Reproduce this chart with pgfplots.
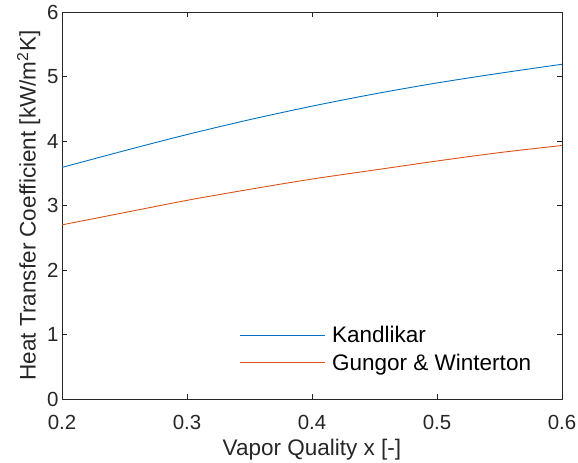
\documentclass[border=0pt]{standalone}
\usepackage{fontspec}
\setmainfont{Liberation Sans}
\usepackage{pgfplots}
\pgfplotsset{compat=1.18}

\definecolor{mblue}{rgb}{0,0.447,0.741}
\definecolor{morange}{rgb}{0.85,0.325,0.098}
\definecolor{axgray}{rgb}{0.15,0.15,0.15}

\begin{document}
\begin{tikzpicture}
\begin{axis}[
    name=ax,
    width=500bp, height=387bp, scale only axis,
    xmin=0.2, xmax=0.6, ymin=0, ymax=6,
    xtick={0.2,0.3,0.4,0.5,0.6}, ytick={0,1,2,3,4,5,6},
    xticklabel style={/pgf/number format/fixed, /pgf/number format/precision=1},
    xticklabel shift=13bp,
    /pgf/number format/assume math mode=true,
    tick label style={font=\fontsize{20.5}{24}\selectfont, text=axgray},
    label style={font=\fontsize{22.6}{27}\selectfont, text=axgray},
    xlabel={Vapor Quality x [-]},
    xlabel style={yshift=-2bp},
    ylabel={Heat Transfer Coefficient [kW/m\textsuperscript{2}K]},
    tick align=inside, major tick length=5bp,
    axis line style={axgray, line width=0.7bp},
    tick style={axgray, line width=0.7bp},
    legend style={draw=none, fill=none, font=\fontsize{22.6}{27}\selectfont,
        at={(rel axis cs:0.354,0.194)}, anchor=north west, inner sep=0pt,
        row sep=6bp, column sep=5bp},
    legend cell align=left,
    legend image code/.code={\draw[#1] (0bp,0bp) -- (85bp,0bp);},
]
\addplot[mblue, line width=0.9bp, smooth] coordinates {
  (0.20,3.59) (0.25,3.85) (0.30,4.10) (0.35,4.33) (0.40,4.54)
  (0.45,4.73) (0.50,4.90) (0.55,5.05) (0.60,5.19)};
\addlegendentry{Kandlikar}
\addplot[morange, line width=0.9bp, smooth] coordinates {
  (0.20,2.70) (0.25,2.89) (0.30,3.08) (0.35,3.25) (0.40,3.41)
  (0.45,3.55) (0.50,3.69) (0.55,3.82) (0.60,3.93)};
\addlegendentry{Gungor \& Winterton}
\end{axis}
\pgfresetboundingbox
\path ([shift={(-62bp,-64bp)}]ax.south west) rectangle ([shift={(16bp,12bp)}]ax.north east);
\end{tikzpicture}
\end{document}
